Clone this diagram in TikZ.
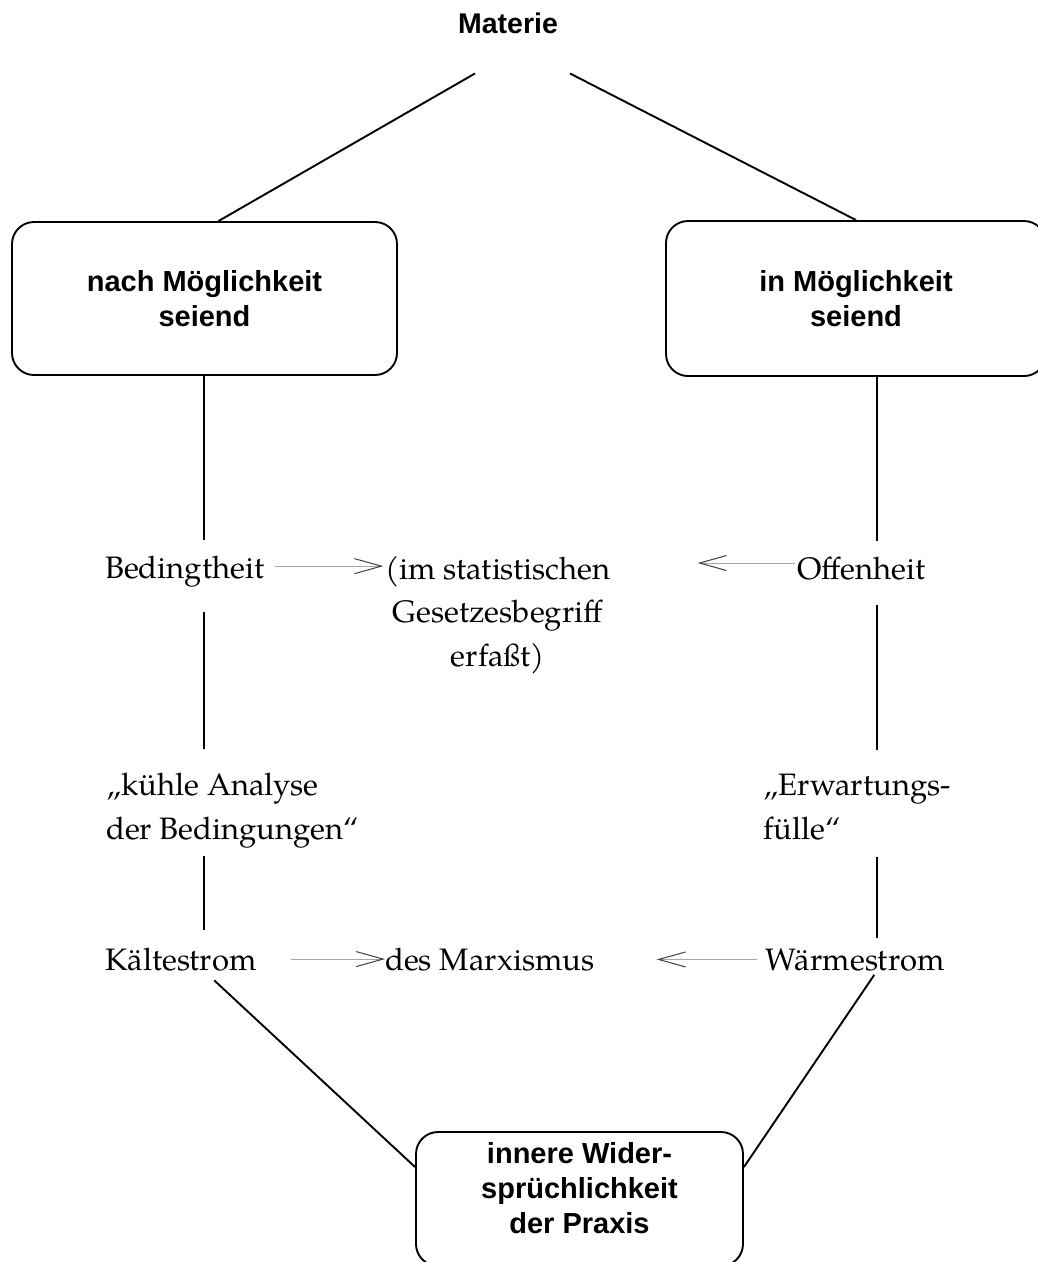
\documentclass[tikz,border=0pt]{standalone}
\usepackage{fontspec}
\setmainfont{TeX Gyre Pagella}
\newfontfamily\boxfont{Liberation Sans}
\usetikzlibrary{arrows.meta}

\tikzset{
  connector/.style={line width=1.9pt, black},
  flow/.style={line width=1pt, gray!70,
    -{Straight Barb[length=27pt, width=15pt, line width=1pt, color=black!75]}},
  term/.style={inner sep=0pt, font=\fontsize{31}{43.5}\selectfont},
  roundbox/.style={draw, line width=1.9pt, rounded corners=22pt, align=center,
    inner sep=0pt, font=\boxfont\bfseries\fontsize{29}{35}\selectfont}
}

\begin{document}
\begin{tikzpicture}[x=1pt, y=-1pt]
  \useasboundingbox[fill=white] (0,0) rectangle (1038,1262);

  % columns of the vertical connectors
  \coordinate (lcol) at (204,0);
  \coordinate (rcol) at (877,0);

  % top and boxes
  \node[inner sep=0pt, anchor=base, font=\boxfont\bfseries\fontsize{28.5}{35}\selectfont] (mat) at (508,33) {Materie};
  \node[roundbox, minimum width=385, minimum height=153] (lbox) at (204.5,298.5)
    {nach Möglichkeit\\seiend};
  \node[roundbox, minimum width=380, minimum height=155] (rbox) at (856,298.5)
    {in Möglichkeit\\seiend};
  \node[roundbox, minimum width=327, minimum height=134] (bbox) at (579.5,1199)
    {innere Wider-\\sprüchlichkeit\\der Praxis\rule[-22pt]{0pt}{0pt}};

  \coordinate (matL) at ([shift={(-33,40)}]mat.south);
  \coordinate (matR) at ([shift={(62,40)}]mat.south);

  % serif terms
  \node[term, anchor=base west] (bed) at (105,578) {Bedingtheit};
  \node[term, anchor=base west] (offen) at (797,579) {Offenheit};
  \node[term, anchor=north, align=center] (stat) at (498,556)
    {(im statistischen\\Gesetzesbegriff\\erfaßt)};
  \node[term, anchor=north west, align=left] (kuehl) at (106,773)
    {„kühle Analyse\\der Bedingungen“};
  \node[term, anchor=north west, align=left] (erw) at (763,774)
    {„Erwartungs-\\fülle“};
  \node[term, anchor=base west] (kalt) at (105,970) {Kältestrom};
  \node[term, anchor=base west] (marx) at (385,970) {des Marxismus};
  \node[term, anchor=base west] (wk) at (765,970) {Wärmestrom};

  % connectors
  \draw[connector] (matL) -- ([xshift=14]lbox.north);
  \draw[connector] (matR) -- (rbox.north);

  \draw[connector, shorten >=15pt] (lcol |- lbox.south) -- (lcol |- bed.north);
  \draw[connector, shorten <=25pt, shorten >=24pt] (lcol |- bed.south) -- (lcol |- kuehl.north);
  \draw[connector, shorten <=8pt, shorten >=17pt] (lcol |- kuehl.south) -- (lcol |- kalt.north);
  \draw[connector, shorten <=14pt] (lcol |- kalt.south) -- ([yshift=32]bbox.west);

  \draw[connector, shorten >=15pt] (rcol |- rbox.south) -- (rcol |- offen.north);
  \draw[connector, shorten <=25pt, shorten >=24pt] (rcol |- offen.south) -- (rcol |- erw.north);
  \draw[connector, shorten <=17pt, shorten >=10pt] (rcol |- erw.south) -- (rcol |- wk.north);
  \draw[connector, shorten <=5pt] (rcol |- wk.south) -- ([yshift=32]bbox.east);

  \draw[flow, shorten <=10pt, shorten >=2pt] ([yshift=5]bed.east) -- ([yshift=5]bed.east -| stat.west);
  \draw[flow, shorten <=2pt, shorten >=87pt] ([yshift=5]offen.west) -- ([yshift=5]offen.west -| stat.east);
  \draw[flow, shorten <=34pt] (kalt.east) -- (kalt.east -| marx.west);
  \draw[flow, shorten <=8pt, shorten >=62pt] (wk.west) -- (wk.west -| marx.east);
\end{tikzpicture}
\end{document}
